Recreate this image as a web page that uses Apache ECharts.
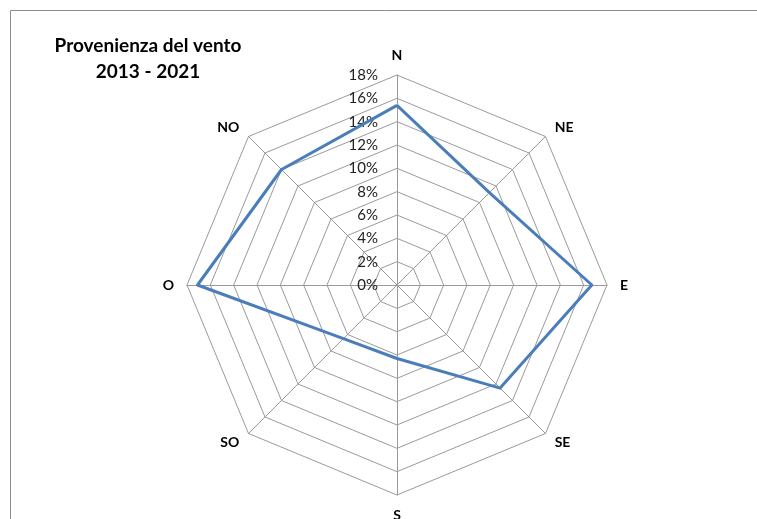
<!DOCTYPE html>
<html>
<head>
<meta charset="utf-8">
<script src="https://cdn.jsdelivr.net/npm/echarts@6/dist/echarts.min.js"></script>
<style>
  html, body { margin: 0; padding: 0; background: #fff; }
  #chart { width: 757px; height: 519px; }
</style>
</head>
<body>
<div id="chart"></div>
<script>
// direzioni (in senso orario da N) e percentuali
const directions = ['N', 'NE', 'E', 'SE', 'S', 'SO', 'O', 'NO'];
const windShare = [15.4, 11.2, 16.7, 12.5, 6.3, 6.5, 17.1, 14.0];
const scaleMax = 18;
const scaleSteps = 9; // 0%, 2%, ... 18%

// il radar di echarts gira in senso antiorario: N, NO, O, SO, S, SE, E, NE
const order = [0, 7, 6, 5, 4, 3, 2, 1];

const chart = echarts.init(document.getElementById('chart'));

const indicator = order.map((i, k) => {
  const ind = { name: directions[i], max: scaleMax, min: 0 };
  if (k === 0) {
    // etichette percentuali solo sull'asse N
    ind.axisLabel = {
      show: true,
      formatter: v => v + '%',
      color: '#222',
      fontFamily: 'Lato',
      fontSize: 15,
      margin: 19
    };
  }
  return ind;
});

const option = {
  animation: false,
  title: {
    text: 'Provenienza del vento\n2013 - 2021',
    left: 143,
    top: 28,
    textAlign: 'center',
    textStyle: {
      fontFamily: 'Lato',
      fontWeight: 'bold',
      fontSize: 19,
      lineHeight: 26,
      color: '#000'
    }
  },
  graphic: [{
    type: 'rect',
    shape: { x: 10.5, y: 10.5, width: 800, height: 600 },
    style: { fill: 'none', stroke: '#8c8c8c', lineWidth: 1 },
    silent: true
  }],
  radar: {
    center: [397, 285],
    radius: 210,
    startAngle: 90,
    shape: 'polygon',
    splitNumber: scaleSteps,
    nameGap: 13,
    axisName: {
      color: '#000',
      fontFamily: 'Lato',
      fontWeight: 'bold',
      fontSize: 14
    },
    axisLabel: { show: false },
    axisLine: { lineStyle: { color: '#9a9a9a', width: 1 } },
    splitLine: { lineStyle: { color: '#9a9a9a', width: 1 } },
    splitArea: { show: false },
    indicator: indicator
  },
  series: [{
    type: 'radar',
    symbol: 'none',
    lineStyle: { color: '#4a7ebb', width: 3 },
    data: [{ value: order.map(i => windShare[i]), name: 'Vento' }]
  }]
};

chart.setOption(option);
</script>
</body>
</html>
